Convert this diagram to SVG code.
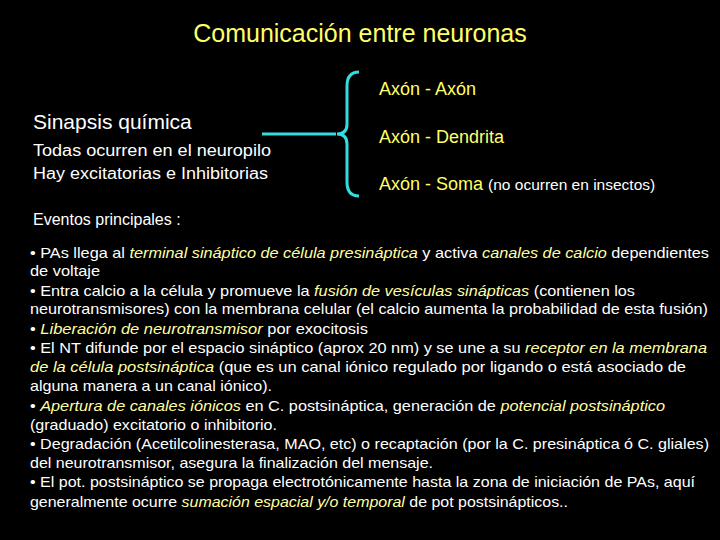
<svg xmlns="http://www.w3.org/2000/svg" width="720" height="540" viewBox="0 0 720 540">
<style>
text{font-family:"Liberation Sans",Arial,sans-serif;fill:#fff}
.y{fill:#ffff66}
.b{font-size:14.5px}
.i{font-style:italic;fill:#ffffa0}
</style>
<rect width="720" height="540" fill="#000"/>
<text class="y" x="360" y="42" font-size="25" text-anchor="middle">Comunicación entre neuronas</text>
<g id="left">
<text x="33" y="129" font-size="21">Sinapsis química</text>
<text x="33" y="156" font-size="16" textLength="238" lengthAdjust="spacingAndGlyphs">Todas ocurren en el neuropilo</text>
<text x="33" y="179" font-size="16" textLength="235" lengthAdjust="spacingAndGlyphs">Hay excitatorias e Inhibitorias</text>
</g>
<g id="connectors" fill="none" stroke="#33dddd" stroke-width="3">
<path d="M262 134 H336"/>
<path d="M359 72 Q347 72 347 86 V124 Q347 134 337 134 Q347 134 347 144 V182 Q347 196 359 196"/>
</g>
<g id="right">
<text class="y" x="379" y="95" font-size="18">Axón - Axón</text>
<text class="y" x="379" y="143" font-size="18">Axón - Dendrita</text>
<text class="y" x="379" y="190" font-size="18">Axón - Soma <tspan fill="#fff" font-size="15.5">(no ocurren en insectos)</tspan></text>
</g>
<text x="33" y="225" font-size="16">Eventos principales :</text>
<g class="b" xml:space="preserve">
<text x="30" y="258" textLength="679" lengthAdjust="spacingAndGlyphs">•  PAs llega al <tspan class="i">terminal sináptico de célula presináptica</tspan> y activa <tspan class="i">canales de calcio</tspan> dependientes</text>
<text x="30" y="276" textLength="70" lengthAdjust="spacingAndGlyphs">de voltaje</text>
<text x="30" y="296" textLength="605" lengthAdjust="spacingAndGlyphs">•  Entra calcio a la célula y promueve la <tspan class="i">fusión de vesículas sinápticas</tspan> (contienen los</text>
<text x="30" y="314" textLength="678" lengthAdjust="spacingAndGlyphs">neurotransmisores) con la membrana celular (el calcio aumenta la probabilidad de esta fusión)</text>
<text x="30" y="334" textLength="338" lengthAdjust="spacingAndGlyphs">•  <tspan class="i">Liberación de neurotransmisor</tspan> por exocitosis</text>
<text x="30" y="353" textLength="677" lengthAdjust="spacingAndGlyphs">•  El NT difunde por el espacio sináptico (aprox 20 nm) y se une a su <tspan class="i">receptor en la membrana</tspan></text>
<text x="30" y="372" textLength="656" lengthAdjust="spacingAndGlyphs"><tspan class="i">de la célula postsináptica</tspan> (que es un canal iónico regulado por ligando o está asociado de</text>
<text x="30" y="391" textLength="242" lengthAdjust="spacingAndGlyphs">alguna manera a un canal iónico).</text>
<text x="30" y="411" textLength="635" lengthAdjust="spacingAndGlyphs">•  <tspan class="i">Apertura de canales iónicos</tspan> en C. postsináptica, generación de <tspan class="i">potencial postsináptico</tspan></text>
<text x="30" y="430" textLength="247" lengthAdjust="spacingAndGlyphs">(graduado) excitatorio o inhibitorio.</text>
<text x="30" y="449" textLength="679" lengthAdjust="spacingAndGlyphs">•  Degradación (Acetilcolinesterasa, MAO, etc) o recaptación (por la C. presináptica ó C. gliales)</text>
<text x="30" y="468" textLength="403" lengthAdjust="spacingAndGlyphs">del neurotransmisor, asegura la finalización del mensaje.</text>
<text x="30" y="487" textLength="665" lengthAdjust="spacingAndGlyphs">• El pot. postsináptico se propaga electrotónicamente hasta la zona de iniciación de PAs, aquí</text>
<text x="30" y="507" textLength="538" lengthAdjust="spacingAndGlyphs">generalmente ocurre <tspan class="i">sumación espacial y/o temporal</tspan> de pot postsinápticos..</text>
</g>
</svg>
